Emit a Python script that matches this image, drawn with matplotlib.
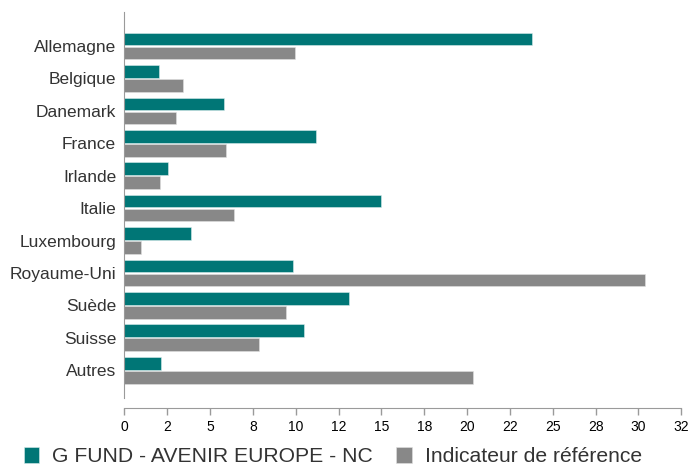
import numpy as np
import matplotlib
matplotlib.use("Agg")
import matplotlib.pyplot as plt

# Data (% weight)
countries = ["Allemagne", "Belgique", "Danemark", "France", "Irlande", "Italie",
             "Luxembourg", "Royaume-Uni", "Suède", "Suisse", "Autres"]
fund = [23.8, 2.0, 5.8, 11.2, 2.55, 15.0, 3.9, 9.85, 13.1, 10.5, 2.15]
benchmark = [9.95, 3.4, 3.0, 5.95, 2.05, 6.4, 0.95, 30.4, 9.45, 7.85, 20.35]

x_ticks = [0, 2.5, 5, 7.5, 10, 12.5, 15, 17.5, 20, 22.5, 25, 27.5, 30, 32.5]
x_tick_labels = ["0", "2", "5", "8", "10", "12", "15", "18", "20", "22", "25", "28", "30", "32"]

fund_name = "G FUND - AVENIR EUROPE - NC"
bench_name = "Indicateur de référence"

teal = "#007676"
grey = "#888888"
text_col = "#333333"
axis_col = "#9a9a9a"

plt.rcParams['font.family'] = ['Liberation Sans', 'DejaVu Sans']

fig = plt.figure(figsize=(6.9, 4.7), dpi=100)
ax = fig.add_axes([0.1804, 0.153, 0.807, 0.8215])

y = np.arange(len(countries))
h = 0.39
off = 0.215
ax.barh(y - off, fund, height=h, color=teal, edgecolor="#d8ecec", linewidth=0.4, label=fund_name)
ax.barh(y + off, benchmark, height=h, color=grey, edgecolor="#e0e0e0", linewidth=0.4, label=bench_name)

ax.set_ylim(10.86, -1.05)
ax.set_xlim(0, 32.5)
ax.set_yticks(y)
ax.set_yticklabels(countries, fontsize=12.5, color=text_col)
ax.set_xticks(x_ticks)
ax.set_xticklabels(x_tick_labels, fontsize=12, color=text_col)

ax.tick_params(axis='y', length=0, pad=6)
ax.tick_params(axis='x', length=5, width=1, color=axis_col, pad=4)

for s in ["top", "right"]:
    ax.spines[s].set_visible(False)
ax.spines["left"].set_color(axis_col)
ax.spines["bottom"].set_color(axis_col)
ax.spines["bottom"].set_position(("outward", 7))
ax.spines["bottom"].set_bounds(0, 32.5)

leg = fig.legend(loc="center", bbox_to_anchor=(0.482, 0.028), ncol=2, frameon=False,
                 fontsize=15.2, handlelength=0.75, handleheight=0.75,
                 handletextpad=0.6, columnspacing=1.1, borderaxespad=0)
for t in leg.get_texts():
    t.set_color(text_col)

fig.savefig("out.png", dpi=100)
